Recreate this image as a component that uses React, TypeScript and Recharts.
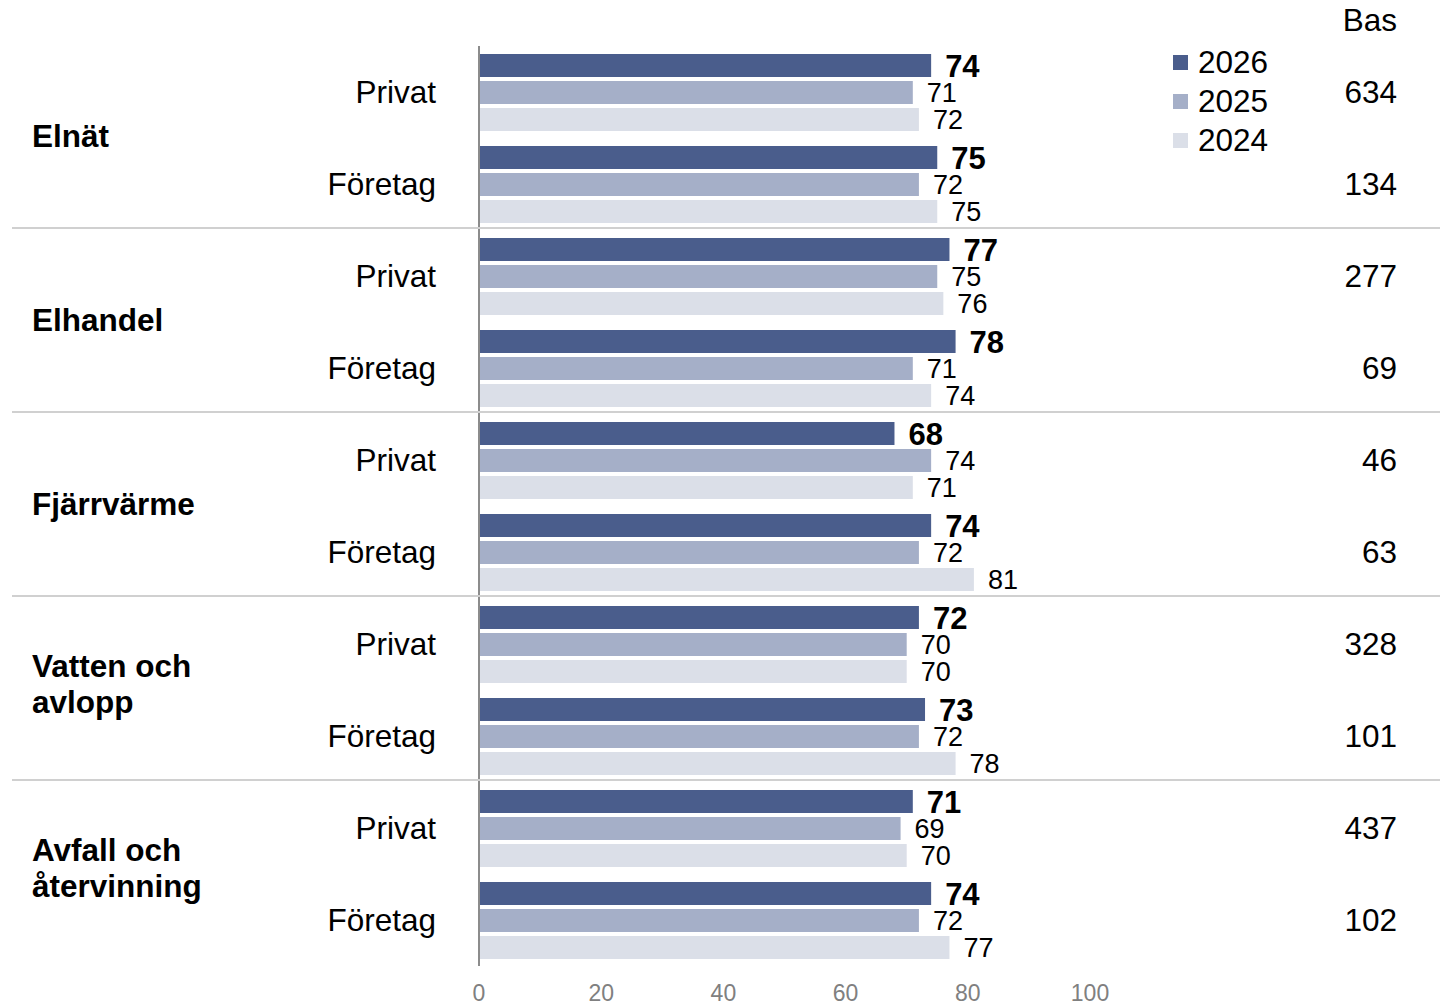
import { BarChart, Bar, XAxis, YAxis, LabelList, Legend } from "recharts";

const categories = [["Elnät"], ["Elhandel"], ["Fjärrvärme"], ["Vatten och", "avlopp"], ["Avfall och", "återvinning"]];
const segments = ["Privat", "Företag"];
const seriesNames = ["2026", "2025", "2024"];
const values2026 = [74, 75, 77, 78, 68, 74, 72, 73, 71, 74];
const values2025 = [71, 72, 75, 71, 74, 72, 70, 72, 69, 72];
const values2024 = [72, 75, 76, 74, 71, 81, 70, 78, 70, 77];
const bas = [634, 134, 277, 69, 46, 63, 328, 101, 437, 102];
const xTicks = [0, 20, 40, 60, 80, 100];

const rows = categories.flatMap((cat, c) =>
  segments.map((seg, s) => {
    const i = c * 2 + s;
    return {
      id: `${cat.join(" ")}|${seg}`,
      cat,
      seg,
      first: s === 0,
      catIndex: c,
      v2026: values2026[i],
      v2025: values2025[i],
      v2024: values2024[i],
      bas: bas[i],
    };
  })
);

const FONT = '"Liberation Sans", Arial, sans-serif';
const ROW_H = 92;

const RowTick = (props: any) => {
  const { y, payload } = props;
  const row = rows.find(r => r.id === payload.value);
  if (!row) return null;
  const idx = rows.indexOf(row);
  const catY = y + ROW_H / 2;
  return (
    <g>
      {idx === 0 && (
        <text x={1397} y={y - 72} dy="0.36em" textAnchor="end" fontSize={31.5} fill="#000">
          Bas
        </text>
      )}
      {row.first && row.catIndex > 0 && (
        <line x1={12} x2={1440} y1={y - ROW_H / 2 - 2} y2={y - ROW_H / 2 - 2} stroke="#d0d0d0" strokeWidth={2} />
      )}
      {row.first &&
        (row.cat.length === 1 ? (
          <text x={32} y={catY - 2} dy="0.36em" fontSize={31.5} fontWeight={700} fill="#000">
            {row.cat[0]}
          </text>
        ) : (
          row.cat.map((line, k) => (
            <text key={k} x={32} y={catY - 24 + k * 36} dy="0.36em" fontSize={31.5} fontWeight={700} fill="#000">
              {line}
            </text>
          ))
        ))}
      <text x={436} y={y} dy="0.36em" textAnchor="end" fontSize={31.5} fill="#000">
        {row.seg}
      </text>
      <text x={1397} y={y} dy="0.36em" textAnchor="end" fontSize={31.5} fill="#000">
        {row.bas}
      </text>
    </g>
  );
};

const LegendBox = (props: any) => {
  const items = [...(props.payload || [])].sort(
    (a: any, b: any) => seriesNames.indexOf(a.value) - seriesNames.indexOf(b.value)
  );
  return (
    <div style={{ fontFamily: FONT }}>
      {items.map((p: any) => (
        <div key={p.value} style={{ display: "flex", alignItems: "center", height: 39 }}>
          <div style={{ width: 15, height: 15, background: p.color, marginRight: 10 }} />
          <span style={{ fontSize: 31.5, color: "#000" }}>{p.value}</span>
        </div>
      ))}
    </div>
  );
};

export default function App() {
  return (
    <div style={{ position: "absolute", left: 0, top: 0, width: 1440, height: 1006, background: "#fff", fontFamily: FONT }}>
      <BarChart
        width={1440}
        height={1006}
        data={rows}
        layout="vertical"
        margin={{ top: 46, right: 350, bottom: 0, left: 0 }}
        barSize={23}
        barGap={4}
      >
        <XAxis
          type="number"
          domain={[0, 100]}
          ticks={xTicks}
          axisLine={false}
          tickLine={false}
          tickMargin={13}
          height={40}
          tick={{ fill: "#808080", fontSize: 23 }}
        />
        <YAxis
          type="category"
          dataKey="id"
          width={479}
          axisLine={{ stroke: "#8c8c8c", strokeWidth: 2 }}
          tickLine={false}
          tick={<RowTick />}
          interval={0}
        />
        <Legend
          layout="vertical"
          align="center"
          verticalAlign="middle"
          content={<LegendBox />}
          wrapperStyle={{ position: "absolute", left: 1173, top: 43, width: 150 }}
        />
        <Bar dataKey="v2026" name="2026" fill="#4a5d8c" isAnimationActive={false}>
          <LabelList dataKey="v2026" position="right" offset={14} fill="#000" fontSize={31} fontWeight={700} />
        </Bar>
        <Bar dataKey="v2025" name="2025" fill="#a5afc8" isAnimationActive={false}>
          <LabelList dataKey="v2025" position="right" offset={14} fill="#000" fontSize={27} />
        </Bar>
        <Bar dataKey="v2024" name="2024" fill="#dbdfe8" isAnimationActive={false}>
          <LabelList dataKey="v2024" position="right" offset={14} fill="#000" fontSize={27} />
        </Bar>
      </BarChart>
    </div>
  );
}
